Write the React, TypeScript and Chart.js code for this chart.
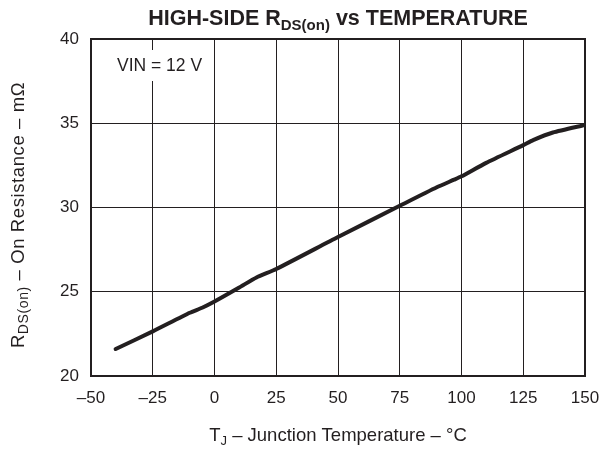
import React, { useEffect, useRef } from "react";
import { Chart, registerables } from "chart.js";

Chart.register(...registerables);

const temperatures = [-40, -25, -10, -5, 0, 10, 17, 25, 50, 75, 90, 97, 100, 110, 125, 129, 137, 150];
const resistance = [21.6, 22.65, 23.75, 24.05, 24.42, 25.25, 25.85, 26.35, 28.25, 30.1, 31.2, 31.65, 31.85, 32.65, 33.7, 34.0, 34.45, 34.9];
const xTicks = [-50, -25, 0, 25, 50, 75, 100, 125, 150];
const yTicks = [20, 25, 30, 35, 40];

const FONT = "'Liberation Sans', Arial, Helvetica, sans-serif";
const INK = "#231f20";

type Seg = { t: string; sub?: boolean };

function drawSegs(ctx: any, segs: Seg[], cx: number, y: number, size: number, subSize: number, subOff: number, weight: string, spacing = 0) {
  ctx.letterSpacing = `${spacing}px`;
  const widths = segs.map((s) => {
    ctx.font = `${weight} ${s.sub ? subSize : size}px ${FONT}`;
    return ctx.measureText(s.t).width;
  });
  const total = widths.reduce((a, b) => a + b, 0);
  let x = cx - total / 2;
  ctx.textAlign = "left";
  ctx.textBaseline = "alphabetic";
  segs.forEach((s, i) => {
    ctx.font = `${weight} ${s.sub ? subSize : size}px ${FONT}`;
    ctx.fillText(s.t, x, s.sub ? y + subOff : y);
    x += widths[i];
  });
  ctx.letterSpacing = "0px";
}

const annot = {
  id: "annot",
  beforeDatasetsDraw(chart: any) {
    const { ctx, chartArea: a } = chart;
    ctx.save();
    ctx.strokeStyle = INK;
    ctx.lineWidth = 2;
    ctx.strokeRect(a.left, a.top, a.right - a.left, a.bottom - a.top);
    // VIN label box
    ctx.fillStyle = "#ffffff";
    ctx.fillRect(101, 50, 110, 31);
    ctx.fillStyle = INK;
    ctx.font = `17.5px ${FONT}`;
    ctx.textAlign = "left";
    ctx.textBaseline = "alphabetic";
    ctx.fillText("VIN = 12 V", 117, 71);
    ctx.restore();
  },
  afterDraw(chart: any) {
    const { ctx, chartArea: a } = chart;
    ctx.save();
    ctx.fillStyle = INK;
    const cx = (a.left + a.right) / 2;
    drawSegs(ctx, [{ t: "HIGH-SIDE R" }, { t: "DS(on)", sub: true }, { t: " vs TEMPERATURE" }], cx, 25, 21.5, 15, 5, "bold");
    drawSegs(ctx, [{ t: "T" }, { t: "J", sub: true }, { t: " \u2013 Junction Temperature \u2013 \u00b0C" }], cx, 441, 18.5, 13, 4, "normal");
    ctx.translate(24, 215);
    ctx.rotate(-Math.PI / 2);
    drawSegs(ctx, [{ t: "R" }, { t: "DS(on)", sub: true }, { t: " \u2013 On Resistance \u2013 m\u03a9" }], 0, 0, 18.5, 14, 4, "normal", 0.6);
    ctx.restore();
  },
};

export default function App() {
  const ref = useRef<HTMLCanvasElement | null>(null);
  useEffect(() => {
    document.body.style.margin = "0";
    const canvas = ref.current;
    if (!canvas) return;
    const chart = new Chart(canvas, {
      type: "line",
      data: {
        datasets: [
          {
            data: temperatures.map((t, i) => ({ x: t, y: resistance[i] })),
            borderColor: INK,
            borderWidth: 4,
            pointRadius: 0,
            tension: 0.2,
            borderCapStyle: "round",
            borderJoinStyle: "round",
            fill: false,
          },
        ],
      },
      options: {
        responsive: false,
        animation: false,
        devicePixelRatio: 1,
        layout: { padding: { left: 0, top: 39, right: 15, bottom: 0 } },
        plugins: { legend: { display: false }, tooltip: { enabled: false }, title: { display: false } },
        scales: {
          x: {
            type: "linear",
            min: -50,
            max: 150,
            afterBuildTicks: (s: any) => {
              s.ticks = xTicks.map((v) => ({ value: v }));
            },
            afterFit: (s: any) => {
              s.height = 73;
              s.paddingLeft = 0;
              s.paddingRight = 0;
            },
            ticks: {
              color: INK,
              font: { family: FONT, size: 17 },
              padding: 12,
              maxRotation: 0,
              autoSkip: false,
              callback: (v: any) => (Number(v) < 0 ? "\u2013" + Math.abs(Number(v)) : String(v)),
            },
            grid: { color: INK, lineWidth: 1, drawTicks: false },
            border: { display: false },
          },
          y: {
            type: "linear",
            min: 20,
            max: 40,
            afterBuildTicks: (s: any) => {
              s.ticks = yTicks.map((v) => ({ value: v }));
            },
            afterFit: (s: any) => {
              s.width = 91;
              s.paddingTop = 0;
              s.paddingBottom = 0;
            },
            ticks: {
              color: INK,
              font: { family: FONT, size: 17 },
              padding: 12,
              autoSkip: false,
            },
            grid: { color: INK, lineWidth: 1, drawTicks: false },
            border: { display: false },
          },
        },
      },
      plugins: [annot],
    } as any);
    return () => chart.destroy();
  }, []);
  return (
    <div style={{ width: 600, height: 449, background: "#fff" }}>
      <canvas ref={ref} width={600} height={449} style={{ display: "block" }} />
    </div>
  );
}
